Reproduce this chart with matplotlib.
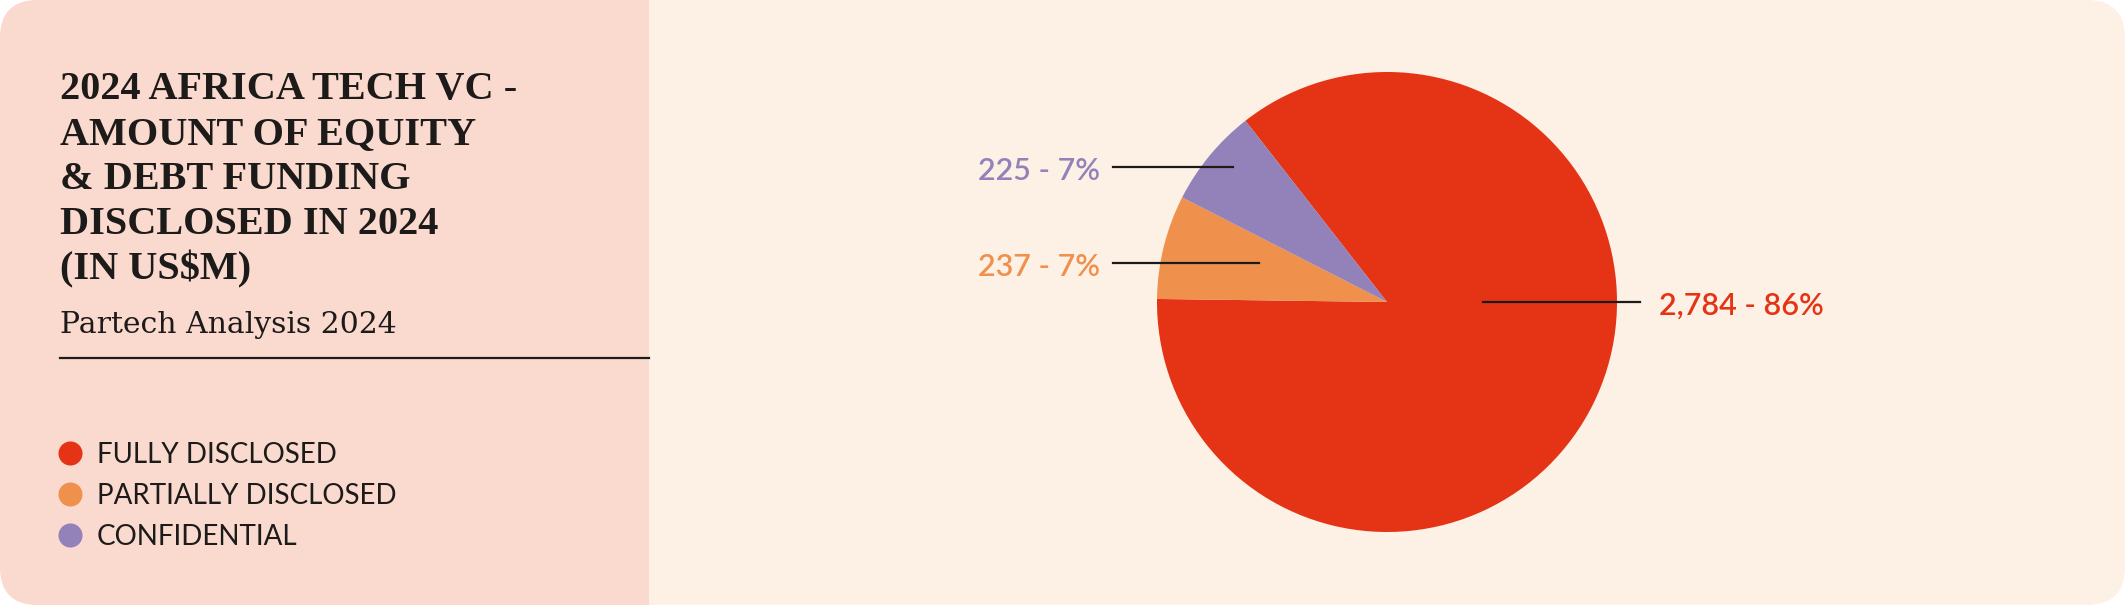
import matplotlib.pyplot as plt
from matplotlib.patches import FancyBboxPatch, Rectangle

# data
categories = ['FULLY DISCLOSED', 'PARTIALLY DISCLOSED', 'CONFIDENTIAL']
values = [2784, 237, 225]
colors = ['#E43415', '#F0904D', '#9381B9']

title_lines = ['2024 AFRICA TECH VC -', 'AMOUNT OF EQUITY', '& DEBT FUNDING',
               'DISCLOSED IN 2024', '(IN US$M)']
subtitle = 'Partech Analysis 2024'

W, H = 2125, 605
PINK = '#FAD9CE'
CREAM = '#FDF0E5'
INK = '#1D1B1A'


def py(y):
    # pixel row (from top) -> data y
    return H - y


fig = plt.figure(figsize=(W / 100, H / 100), dpi=100)
fig.patch.set_facecolor('white')
ax = fig.add_axes([0, 0, 1, 1])
ax.set_xlim(0, W)
ax.set_ylim(0, H)
ax.axis('off')

# background cards
ax.add_patch(FancyBboxPatch((0, 0), W, H, boxstyle='round,pad=0,rounding_size=38',
                            fc=CREAM, ec='none', zorder=0))
ax.add_patch(FancyBboxPatch((0, 0), 649, H, boxstyle='round,pad=0,rounding_size=38',
                            fc=PINK, ec='none', zorder=0.1))
ax.add_patch(Rectangle((560, 0), 89, H, fc=PINK, ec='none', zorder=0.2))

# title block, one line at a time
for i, line in enumerate(title_lines):
    ax.text(60, py(99 + 45 * i), line, fontsize=29, fontweight='bold',
            family='Liberation Serif', color=INK, va='baseline', ha='left')
ax.text(60, py(333), subtitle, fontsize=21.5, family='DejaVu Serif', color=INK,
        va='baseline', ha='left')
ax.plot([60, 649], [py(358), py(358)], color=INK, lw=1.6, zorder=3)

# legend
for i, (cat, col) in enumerate(zip(categories, colors)):
    yc = 453 + 41 * i
    ax.scatter([70], [py(yc)], s=300, color=col, zorder=3, linewidths=0)
    ax.text(97, py(yc + 10), cat, fontsize=20, family='Lato', color=INK,
            va='baseline', ha='left')

# pie
total = sum(values)
ax.pie(values, colors=colors, startangle=128, counterclock=False,
       center=(1387, py(302)), radius=230, frame=True,
       wedgeprops=dict(linewidth=0))
ax.set_xlim(0, W)
ax.set_ylim(0, H)
ax.axis('off')

labels = [f'{v:,} - {round(100 * v / total)}%' for v in values]

# red label (right side)
ax.plot([1483, 1640], [py(302), py(302)], color=INK, lw=1.6, zorder=4)
ax.text(1659, py(315), labels[0], fontsize=22, fontweight='semibold', family='Lato',
        color=colors[0], va='baseline', ha='left')
# orange label
ax.plot([1113, 1259], [py(263), py(263)], color=INK, lw=1.6, zorder=4)
ax.text(1100, py(276), labels[1], fontsize=22, fontweight='semibold', family='Lato',
        color=colors[1], va='baseline', ha='right')
# purple label
ax.plot([1113, 1233], [py(167), py(167)], color=INK, lw=1.6, zorder=4)
ax.text(1100, py(180), labels[2], fontsize=22, fontweight='semibold', family='Lato',
        color=colors[2], va='baseline', ha='right')

fig.savefig('out.png', dpi=100, facecolor=fig.get_facecolor())
